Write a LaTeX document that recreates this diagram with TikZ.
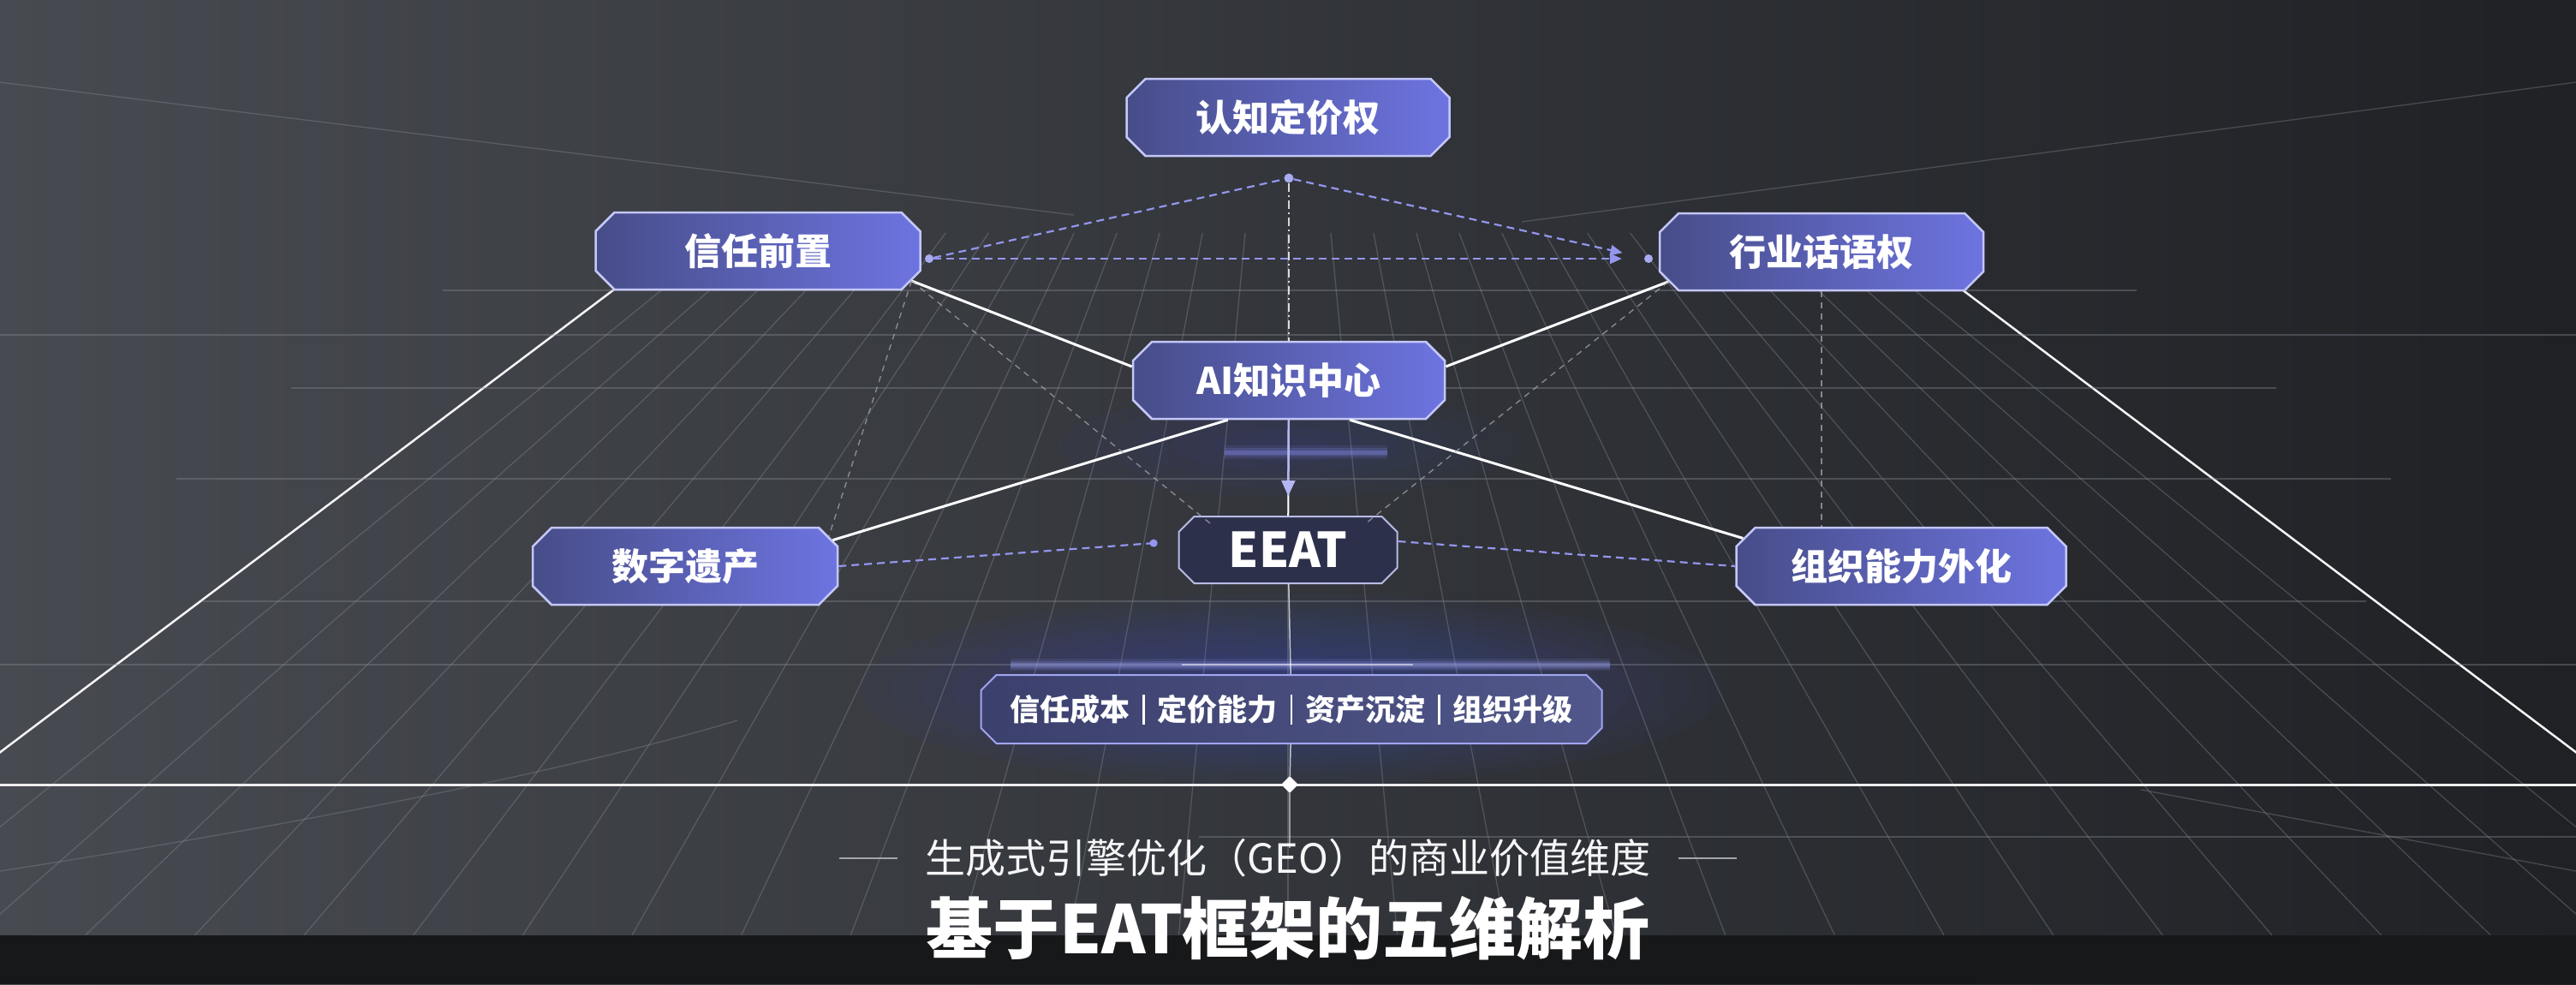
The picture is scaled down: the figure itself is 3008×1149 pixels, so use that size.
\documentclass[tikz,border=0pt]{standalone}
\usepackage{fontspec}
\newfontfamily\cjk{Noto Sans CJK SC}
\usepackage{xcolor}
\usetikzlibrary{arrows.meta}
\usetikzlibrary{calc}
\usetikzlibrary{shapes.misc,shapes.geometric}
\definecolor{bgL}{HTML}{474A50}
\definecolor{bgM}{HTML}{303237}
\definecolor{bgR}{HTML}{1F2125}
\definecolor{band}{HTML}{17181A}
\definecolor{boxL}{HTML}{474D88}
\definecolor{boxR}{HTML}{6D74E0}
\definecolor{rim}{HTML}{C4C7F8}
\definecolor{lav}{HTML}{9496EE}
\definecolor{gridc}{HTML}{8C8F98}
\definecolor{glow}{HTML}{4E56E0}
\newcommand\fsz[1]{\fontsize{#1}{#1}\selectfont}
\newcommand\sepbar{\hspace{.42em}\rule[-.12em]{.08em}{1em}\hspace{.42em}}
\tikzstyle{dim}=[chamfered rectangle,chamfered rectangle xsep=11pt,chamfered rectangle ysep=11pt,
  draw=rim,line width=2.5pt,left color=boxL,right color=boxR,text=white,inner sep=0pt,
  minimum height=90pt,font=\cjk\bfseries\fsz{43}]
\tikzstyle{core}=[chamfered rectangle,chamfered rectangle xsep=9pt,chamfered rectangle ysep=9pt,
  draw=rim!80!gridc,line width=2pt,fill=boxL!45!band,text=white,inner sep=0pt,
  minimum width=255pt,minimum height=78pt,font=\cjk\bfseries\fsz{56}]
\tikzstyle{strip}=[chamfered rectangle,chamfered rectangle xsep=9pt,chamfered rectangle ysep=9pt,
  draw=rim!70!glow,line width=2pt,left color=boxL!75!band,right color=boxL!85!gridc,text=white,
  inner sep=0pt,minimum width=725pt,minimum height=80pt,font=\cjk\bfseries\fsz{35}]
\tikzstyle{dot}=[circle,fill=lav!80!white,inner sep=0pt,minimum size=11pt]
\tikzstyle{gem}=[diamond,aspect=.6,fill=white,inner sep=0pt,minimum size=20pt]
\tikzstyle{link}=[white,line width=3pt]
\tikzstyle{dashlink}=[lav,line width=2.2pt,dash pattern=on 9pt off 6pt,
  >/.tip={Triangle[length=14pt,width=12pt]},o/.tip={Circle[length=9pt]}]
\tikzstyle{ghost}=[gridc!80!white,line width=1.4pt,dash pattern=on 7pt off 6pt,opacity=.75]
\tikzstyle{gridline}=[gridc,line width=1.3pt,opacity=.36]

\begin{document}
\begin{tikzpicture}[x=1pt,y=-1pt]
	\useasboundingbox (0,0) rectangle (3008,1149);
	\shade[left color=bgL,middle color=bgM,right color=bgR] (0,0) rectangle (3008,1149);
	\foreach \s in {1,...,14}
		\fill[glow,opacity=.035] (1508,805) ellipse ({36*\s} and {8*\s});
	\foreach \s in {1,...,6}
		\fill[glow,opacity=.03] (1505,520) ellipse ({45*\s} and {10*\s});
	\begin{scope}
		\clip (0,0) rectangle (3008,1092);
		\coordinate (V) at (1504,-255);
		\foreach \k in {-13,...,13}
			\draw[gridline] ($(V)!.45!(1504+\k*111,916)$) -- ($(V)!1.15!(1504+\k*111,916)$);
		\foreach \k in {-14,14}
			\draw[white!90!gridc,line width=2.5pt] ($(V)!.5!(1504+\k*111,916)$) -- ($(V)!1.15!(1504+\k*111,916)$);
		\foreach \y/\a/\b in {339/517/2495,391/0/3008,453/340/2658,559/206/2792,702/235/2763,776/0/3008,977/1400/3008}
			\draw[gridline] (\a,\y) -- (\b,\y);
		\draw[gridline] (0,96) -- (1254,251);
		\draw[gridline] (3008,96) -- (1777,259);
		\draw[gridline] (0,1017) .. controls (400,955) and (700,890) .. (861,841);
		\draw[gridline] (2500,922) -- (3008,1017);
		\draw[white!85!gridc,line width=3pt] (0,916) -- (3008,916);
		\foreach \w/\o in {14/.12,9/.2,5/.3}
			\draw[glow!60!white,line width=\w pt,opacity=\o] (1180,776) -- (1880,776);
		\draw[white,line width=2pt,opacity=.5] (1380,776) -- (1650,776);
		\foreach \w/\o in {16/.12,10/.2,5/.35}
			\draw[glow!70!white,line width=\w pt,opacity=\o] (1430,528) -- (1620,528);
	\end{scope}
	\fill[band] (0,1092) rectangle (3008,1149);

	\node[dim,minimum width=377pt] (C) at (1504,137) {认知定价权};
	\node[dim,minimum width=379pt] (T) at (885,293) {信任前置};
	\node[dim,minimum width=378pt] (I) at (2127,294) {行业话语权};
	\node[dim,minimum width=364pt] (K) at (1505,444) {AI知识中心};
	\node[core] (E) at (1504,642) {EEAT};
	\node[dim,minimum width=356pt] (D) at (800,661) {数字遗产};
	\node[dim,minimum width=385pt] (O) at (2220,661) {组织能力外化};
	\node[strip] (B) at (1508,828) {信任成本\sepbar 定价能力\sepbar 资产沉淀\sepbar 组织升级};
	\node[dot] (c) at (1505,208) {};
	\node[dot,minimum size=10pt] (t) at (1085,302) {};
	\node[dot,minimum size=10pt] (i) at (1925,302) {};
	\node[gem] (g) at (1506,916) {};
	\coordinate (s) at (1506,990);
	\node[inner sep=0pt,text=white!92!gridc,font=\cjk\fsz{47}] (sub) at (1504,1002) {生成式引擎优化（GEO）的商业价值维度};
	\node[inner sep=0pt,text=white,font=\cjk\bfseries\fsz{78}] (ttl) at (1504,1084) {基于EAT框架的五维解析};

	\draw[link] (T.south east) -- (K.175);
	\draw[link] (I.south west) -- (K.5);
	\draw[link] (K.-147) -- (D.10);
	\draw[link] (K.-33) -- (O.170);
	\draw[white,line width=2pt] (K) -- (E);
	\draw[lav!70!white,line width=2pt,-{Triangle[length=18pt,width=16pt]},shorten >=23pt] (K.south) -- (E.north);
	\draw[white,line width=1.3pt,dash pattern=on 10pt off 4pt on 2pt off 4pt,opacity=.8] (c) -- (K.north);
	\draw[dashlink] (t) -- (c);
	\draw[dashlink,->,shorten >=26pt] (c) -- (i);
	\draw[dashlink,->,shorten >=26pt] (t) -- (i);
	\draw[ghost] (T.south east) -- ($(E.north west)!.12!(E.north east)$);
	\draw[ghost] (I.south west) -- ($(E.north east)!.12!(E.north west)$);
	\draw[ghost] (T.south east) -- (D.north east);
	\draw[ghost] (I.south) -- (I.south |- O.north);
	\draw[dashlink,-o,shorten >=24pt] (D.east) -- ([yshift=10pt]E.west);
	\draw[dashlink] ([yshift=10pt]E.east) -- (O.west);
	\draw[white,line width=1.5pt,opacity=.7] (E) -- (B);
	\draw[white,line width=1.5pt,opacity=.7] (B) -- (g);
	\draw[white,line width=1.5pt,opacity=.5] (g) -- (s);
	\draw[gridc!80!white,line width=2.5pt] ([xshift=-32pt]sub.west) -- ([xshift=-100pt]sub.west);
	\draw[gridc!80!white,line width=2.5pt] ([xshift=32pt]sub.east) -- ([xshift=100pt]sub.east);
\end{tikzpicture}
\end{document}
